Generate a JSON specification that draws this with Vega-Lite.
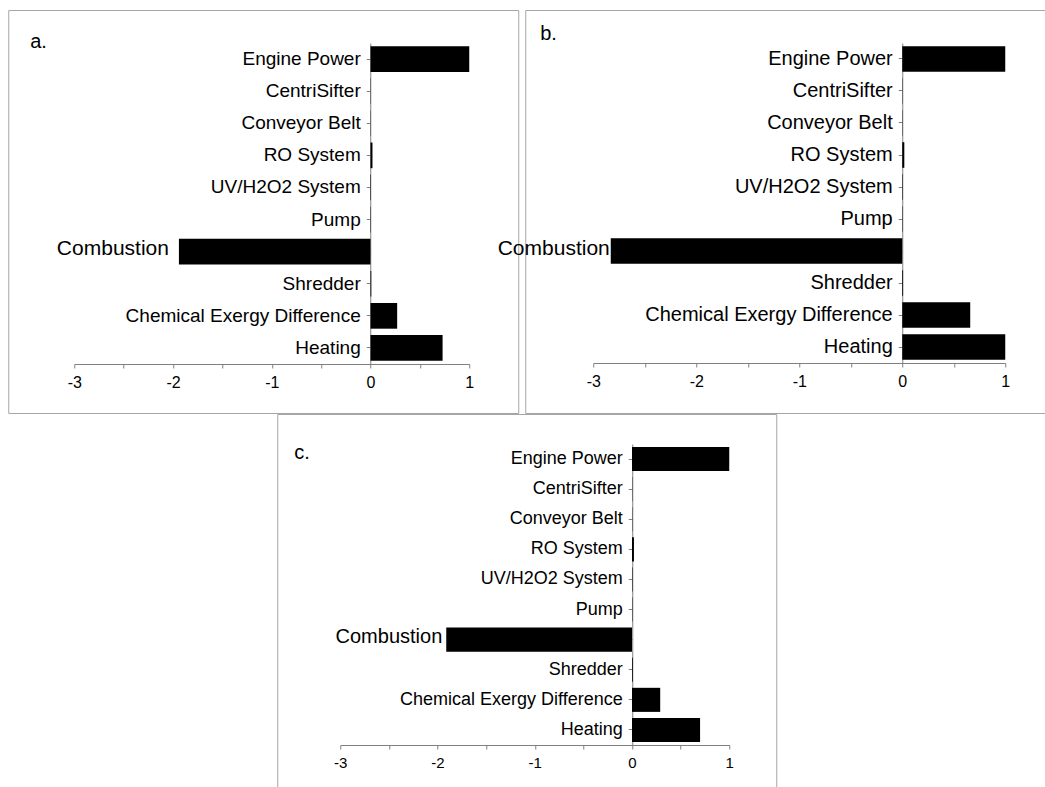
{
  "$schema": "https://vega.github.io/schema/vega-lite/v6.json",
  "padding": {"left": 7, "top": 9, "right": 0, "bottom": 0},
  "background": "white",
  "config": {
    "font": "Liberation Sans",
    "view": {"stroke": "#a6a6a6", "strokeWidth": 1},
    "axis": {"domainColor": "#808080", "tickColor": "#808080", "labelColor": "black", "grid": false, "title": null, "labelFont": "Liberation Sans"},
    "title": {"font": "Liberation Sans", "fontWeight": "normal", "color": "black"}
  },
  "datasets": {
    "a": [
      {"component": "Engine Power", "value": 1.0},
      {"component": "CentriSifter", "value": 0.003},
      {"component": "Conveyor Belt", "value": 0.003},
      {"component": "RO System", "value": 0.02},
      {"component": "UV/H2O2 System", "value": 0.005},
      {"component": "Pump", "value": 0.004},
      {"component": "Combustion", "value": -1.94},
      {"component": "Shredder", "value": 0.008},
      {"component": "Chemical Exergy Difference", "value": 0.27},
      {"component": "Heating", "value": 0.73}
    ],
    "b": [
      {"component": "Engine Power", "value": 1.0},
      {"component": "CentriSifter", "value": 0.003},
      {"component": "Conveyor Belt", "value": 0.003},
      {"component": "RO System", "value": 0.02},
      {"component": "UV/H2O2 System", "value": 0.005},
      {"component": "Pump", "value": 0.004},
      {"component": "Combustion", "value": -2.83},
      {"component": "Shredder", "value": 0.008},
      {"component": "Chemical Exergy Difference", "value": 0.66},
      {"component": "Heating", "value": 1.0}
    ],
    "c": [
      {"component": "Engine Power", "value": 1.0},
      {"component": "CentriSifter", "value": 0.003},
      {"component": "Conveyor Belt", "value": 0.003},
      {"component": "RO System", "value": 0.02},
      {"component": "UV/H2O2 System", "value": 0.005},
      {"component": "Pump", "value": 0.004},
      {"component": "Combustion", "value": -1.91},
      {"component": "Shredder", "value": 0.008},
      {"component": "Chemical Exergy Difference", "value": 0.29},
      {"component": "Heating", "value": 0.70}
    ]
  },
  "spacing": -3,
  "center": true,
  "vconcat": [
    {
      "spacing": -23,
      "hconcat": [
        {
          "width": 510, "height": 403,
          "data": {"name": "a"},
          "title": {"text": "a.", "anchor": "start", "frame": "group", "orient": "top", "offset": -52, "baseline": "middle", "dx": 22, "fontSize": 20},
          "encoding": {
            "y": {"field": "component", "type": "nominal", "sort": null,
              "scale": {"range": [33, 354], "paddingInner": 0.2, "paddingOuter": 0.1},
              "axis": {"orient": "left", "offset": -362, "labelFontSize": 19, "tickSize": 4, "labelPadding": 6, "labelLimit": 400, "labelExpr": "datum.label === 'Combustion' ? '' : datum.label"}},
            "x": {"field": "value", "type": "quantitative",
              "scale": {"domain": [-3, 1], "range": [66, 461], "nice": false, "zero": false},
              "axis": {"orient": "bottom", "offset": -49, "values": [-3, -2.5, -2, -1.5, -1, -0.5, 0, 0.5, 1], "labelExpr": "datum.value % 1 === 0 ? '' + datum.value : ''", "labelFontSize": 16, "tickSize": 4, "labelPadding": 6, "labelFlush": false, "labelOverlap": false}}
          },
          "layer": [
            {"mark": {"type": "bar", "color": "black"}},
            {"transform": [{"filter": "datum.component === 'Combustion'"}],
              "mark": {"type": "text", "align": "right", "baseline": "middle", "dx": -10, "dy": -3, "fontSize": 21, "color": "black"},
              "encoding": {"text": {"field": "component"}}}
          ]
        },
        {
          "width": 520, "height": 403,
          "data": {"name": "b"},
          "title": {"text": "b.", "anchor": "start", "frame": "group", "orient": "top", "offset": -44, "baseline": "middle", "dx": 15, "fontSize": 20},
          "encoding": {
            "y": {"field": "component", "type": "nominal", "sort": null,
              "scale": {"range": [33, 353], "paddingInner": 0.2, "paddingOuter": 0.1},
              "axis": {"orient": "left", "offset": -377, "labelFontSize": 20, "tickSize": 4, "labelPadding": 6, "labelLimit": 400, "labelExpr": "datum.label === 'Combustion' ? '' : datum.label"}},
            "x": {"field": "value", "type": "quantitative",
              "scale": {"domain": [-3, 1], "range": [68, 480], "nice": false, "zero": false},
              "axis": {"orient": "bottom", "offset": -50, "values": [-3, -2.5, -2, -1.5, -1, -0.5, 0, 0.5, 1], "labelExpr": "datum.value % 1 === 0 ? '' + datum.value : ''", "labelFontSize": 16, "tickSize": 4, "labelPadding": 6, "labelFlush": false, "labelOverlap": false}}
          },
          "layer": [
            {"mark": {"type": "bar", "color": "black"}},
            {"transform": [{"filter": "datum.component === 'Combustion'"}],
              "mark": {"type": "text", "align": "right", "baseline": "middle", "dx": -1, "dy": -2, "fontSize": 21, "color": "black"},
              "encoding": {"text": {"field": "component"}}}
          ]
        }
      ]
    },
    {
      "width": 499, "height": 380,
      "data": {"name": "c"},
      "title": {"text": "c.", "anchor": "start", "frame": "group", "orient": "top", "offset": -59, "baseline": "middle", "dx": 17, "fontSize": 20},
      "encoding": {
        "y": {"field": "component", "type": "nominal", "sort": null,
          "scale": {"range": [30, 331], "paddingInner": 0.2, "paddingOuter": 0.1},
          "axis": {"orient": "left", "offset": -355, "labelFontSize": 18, "tickSize": 4, "labelPadding": 6, "labelLimit": 400, "labelExpr": "datum.label === 'Combustion' ? '' : datum.label"}},
        "x": {"field": "value", "type": "quantitative",
          "scale": {"domain": [-3, 1], "range": [63, 452], "nice": false, "zero": false},
          "axis": {"orient": "bottom", "offset": -49, "values": [-3, -2.5, -2, -1.5, -1, -0.5, 0, 0.5, 1], "labelExpr": "datum.value % 1 === 0 ? '' + datum.value : ''", "labelFontSize": 15, "tickSize": 4, "labelPadding": 6, "labelFlush": false, "labelOverlap": false}}
      },
      "layer": [
        {"mark": {"type": "bar", "color": "black"}},
        {"transform": [{"filter": "datum.component === 'Combustion'"}],
          "mark": {"type": "text", "align": "right", "baseline": "middle", "dx": -4, "dy": -3, "fontSize": 20, "color": "black"},
          "encoding": {"text": {"field": "component"}}}
      ]
    }
  ]
}
